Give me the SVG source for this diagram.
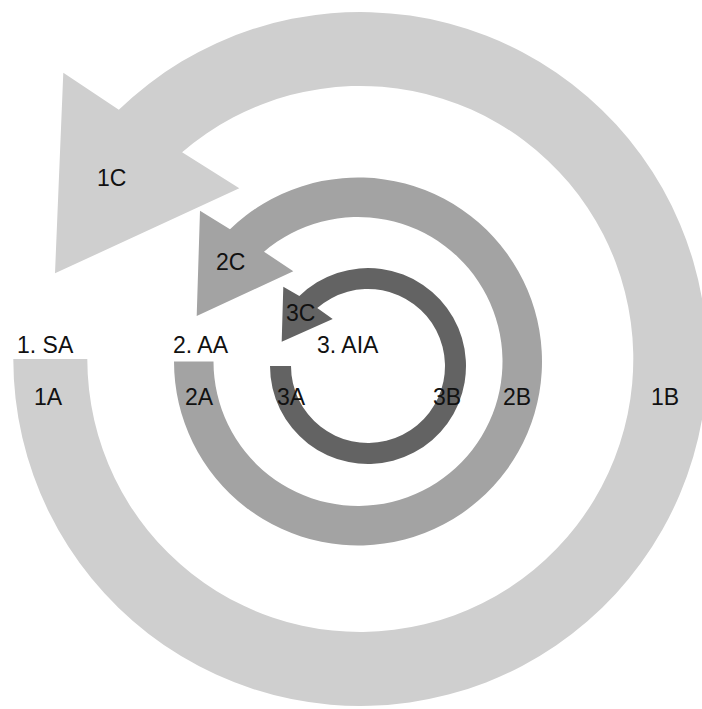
<svg xmlns="http://www.w3.org/2000/svg" width="702" height="709" viewBox="0 0 702 709">
  <style>
    .lbl { font-family: "Liberation Sans", Arial, sans-serif; font-size: 23px; fill: #111; }
    .a1 { fill: #cfcfcf; }
    .a2 { fill: #a3a3a3; }
    .a3 { fill: #636363; }
  </style>
  <rect x="0" y="0" width="702" height="709" fill="#ffffff"/>
  <g id="arrow1">
    <path class="a1" d="M 13.3 359 A 347 347 0 1 0 118.8 109.8 L 63.3 72.7 L 55 273.3 L 239.3 188.3 L 182.1 152.15 A 273 273 0 1 1 87.3 359 Z"/>
  </g>
  <g id="arrow2">
    <path class="a2" d="M 174 361.5 A 184 184 0 1 0 230 229.3 L 200 210.7 L 196.7 316 L 293.3 271.2 L 264 251.7 A 144.5 144.5 0 1 1 213.5 361.5 Z"/>
  </g>
  <g id="arrow3">
    <path class="a3" d="M 270 366 A 98 98 0 1 0 299.35 296.07 L 283.3 286.7 L 281.7 341.7 L 332.7 319 L 317.24 308.1 A 77 77 0 1 1 291 366 Z"/>
  </g>
  <g id="labels">
    <text class="lbl" x="17" y="352.7">1. SA</text>
    <text class="lbl" x="173" y="352.7">2. AA</text>
    <text class="lbl" x="317" y="352.7">3. AIA</text>
    <text class="lbl" x="97" y="186">1C</text>
    <text class="lbl" x="216" y="270">2C</text>
    <text class="lbl" x="286" y="321">3C</text>
    <text class="lbl" x="34" y="405">1A</text>
    <text class="lbl" x="185" y="405">2A</text>
    <text class="lbl" x="277" y="405">3A</text>
    <text class="lbl" x="433" y="405">3B</text>
    <text class="lbl" x="503" y="405">2B</text>
    <text class="lbl" x="651" y="405">1B</text>
  </g>
</svg>
